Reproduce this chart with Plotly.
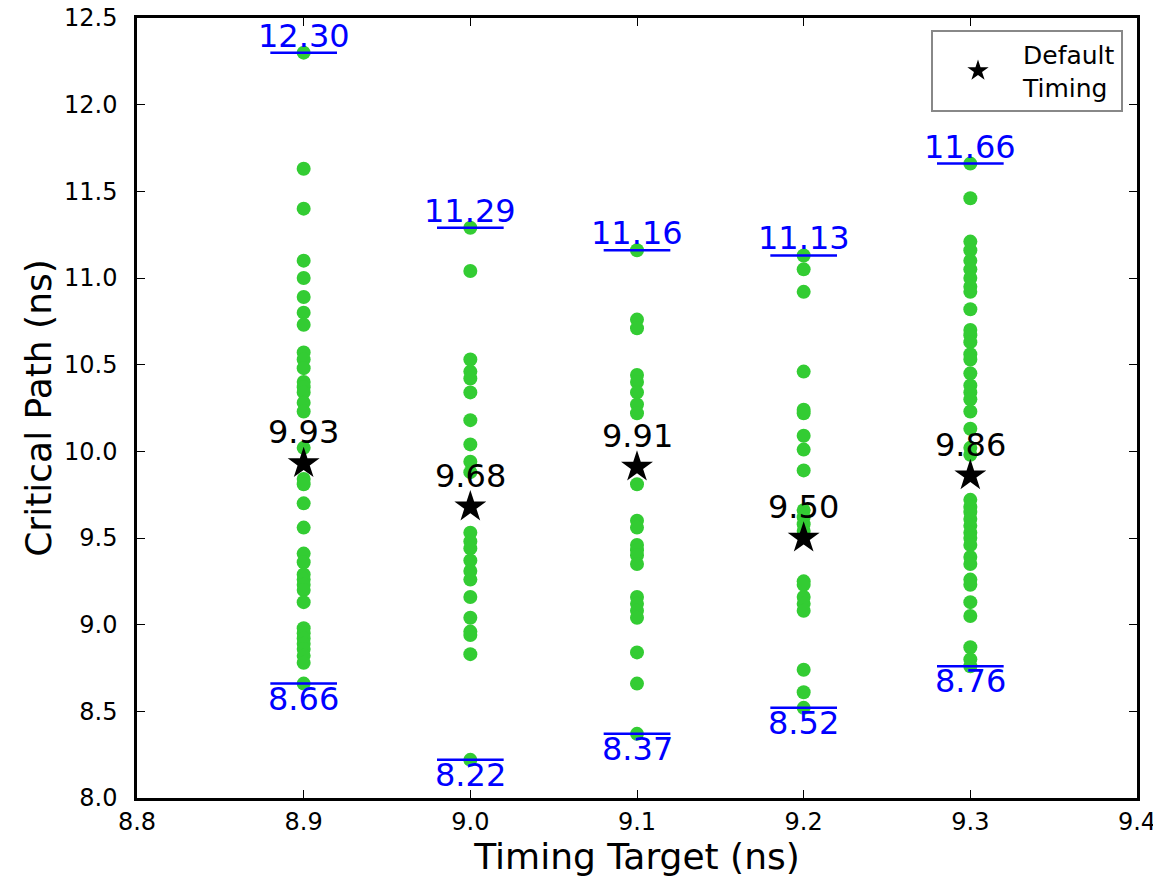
import plotly.graph_objects as go

targets = [8.9, 9.0, 9.1, 9.2, 9.3]

paths_89 = [12.30, 11.63, 11.40, 11.10, 11.00, 10.89, 10.80, 10.73, 10.57, 10.53, 10.48,
            10.40, 10.37, 10.34, 10.28, 10.23, 10.02, 9.84, 9.81, 9.70, 9.56, 9.41, 9.36,
            9.29, 9.26, 9.23, 9.20, 9.13, 8.98, 8.95, 8.92, 8.89, 8.86, 8.82, 8.78, 8.66]
paths_90 = [11.29, 11.04, 10.53, 10.46, 10.42, 10.34, 10.18, 10.04, 9.94, 9.88, 9.53,
            9.48, 9.44, 9.37, 9.31, 9.26, 9.16, 9.04, 8.96, 8.94, 8.83, 8.22]
paths_91 = [11.16, 10.76, 10.71, 10.44, 10.40, 10.34, 10.27, 10.22, 9.81, 9.60, 9.56,
            9.46, 9.43, 9.40, 9.35, 9.16, 9.12, 9.08, 9.04, 8.84, 8.66, 8.37]
paths_92 = [11.13, 11.05, 10.92, 10.46, 10.24, 10.22, 10.09, 10.01, 9.89, 9.66, 9.62,
            9.58, 9.54, 9.25, 9.23, 9.16, 9.12, 9.08, 8.74, 8.61, 8.52]
paths_93 = [11.66, 11.46, 11.21, 11.16, 11.10, 11.05, 11.00, 10.95, 10.92, 10.82, 10.70,
            10.67, 10.63, 10.56, 10.53, 10.45, 10.38, 10.34, 10.30, 10.23, 10.13, 10.02,
            9.98, 9.72, 9.68, 9.65, 9.61, 9.57, 9.53, 9.50, 9.46, 9.39, 9.35, 9.26, 9.23,
            9.13, 9.05, 8.87, 8.80, 8.76]

default_timing = [9.93, 9.68, 9.91, 9.50, 9.86]

x_ticks = [8.8, 8.9, 9.0, 9.1, 9.2, 9.3, 9.4]
y_ticks = [8.0, 8.5, 9.0, 9.5, 10.0, 10.5, 11.0, 11.5, 12.0, 12.5]

all_paths = [paths_89, paths_90, paths_91, paths_92, paths_93]

FONT = "DejaVu Sans"
GREEN = "#33CC33"
BLUE = "#0000FF"
HALF = 0.02

fig = go.Figure()

for t, vals in zip(targets, all_paths):
    fig.add_trace(go.Scatter(
        x=[t] * len(vals), y=vals, mode="markers",
        marker=dict(color=GREEN, size=14, line=dict(width=0)),
        showlegend=False, hoverinfo="y"))

annotations = []
for t, vals in zip(targets, all_paths):
    hi, lo = max(vals), min(vals)
    for v in (hi, lo):
        fig.add_trace(go.Scatter(
            x=[t - HALF, t + HALF], y=[v, v], mode="lines",
            line=dict(color=BLUE, width=2.5), showlegend=False, hoverinfo="skip"))
    annotations.append(dict(x=t, y=hi, text=f"{hi:.2f}", showarrow=False,
                            yanchor="bottom", yshift=-4,
                            font=dict(family=FONT, size=32, color=BLUE)))
    annotations.append(dict(x=t, y=lo, text=f"{lo:.2f}", showarrow=False,
                            yanchor="top", yshift=6,
                            font=dict(family=FONT, size=32, color=BLUE)))

fig.add_trace(go.Scatter(
    x=targets, y=default_timing, mode="markers",
    marker=dict(symbol="star", color="black", size=24, line=dict(width=0)),
    name="Default<br>Timing", showlegend=True))

for t, v in zip(targets, default_timing):
    annotations.append(dict(x=t, y=v, text=f"{v:.2f}", showarrow=False,
                            yanchor="bottom", yshift=10,
                            font=dict(family=FONT, size=32, color="black")))

fig.update_layout(
    width=1161, height=879,
    margin=dict(l=129, r=32, t=10, b=89),
    paper_bgcolor="white", plot_bgcolor="white",
    font=dict(family=FONT, size=24, color="black"),
    annotations=annotations,
    legend=dict(x=0.986, y=0.985, xanchor="right", yanchor="top",
                bordercolor="#888888", borderwidth=2, bgcolor="white",
                itemwidth=80,
                font=dict(family=FONT, size=25, color="black")),
    xaxis=dict(range=[8.8, 9.400001], tickvals=x_ticks, tickformat=".1f",
               ticks="inside", ticklen=8, tickwidth=1, tickcolor="black",
               showline=True, linecolor="black", linewidth=2.5, mirror="allticks",
               showgrid=False, zeroline=False, automargin=False,
               ticklabeloverflow="allow",
               title=dict(text="Timing Target (ns)", font=dict(family=FONT, size=36), standoff=6),
               tickfont=dict(family=FONT, size=24)),
    yaxis=dict(range=[8.0, 12.500001], tickvals=y_ticks, tickformat=".1f",
               ticks="inside", ticklen=8, tickwidth=1, tickcolor="black",
               showline=True, linecolor="black", linewidth=2.5, mirror="allticks",
               showgrid=False, zeroline=False, automargin=False,
               ticklabeloverflow="allow",
               ticklabelstandoff=12,
               title=dict(text="Critical Path (ns)", font=dict(family=FONT, size=36), standoff=2),
               tickfont=dict(family=FONT, size=24)),
)

fig.write_html("out.html")
